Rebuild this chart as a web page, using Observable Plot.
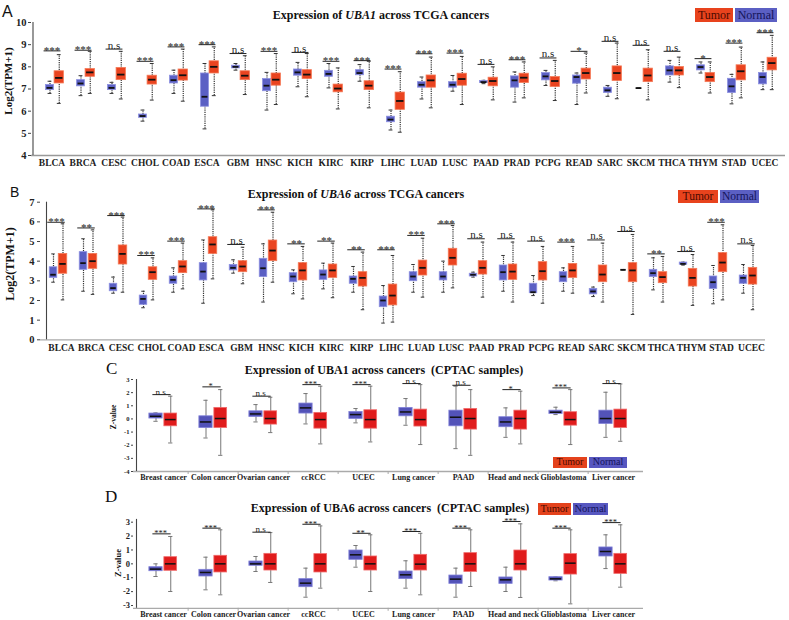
<!DOCTYPE html>
<html><head><meta charset="utf-8">
<script src="https://cdn.jsdelivr.net/npm/d3@7"></script>
<script src="https://cdn.jsdelivr.net/npm/@observablehq/plot@0.6"></script>
<style>
body{margin:0;background:#fff;}
#wrap{position:relative;width:789px;height:620px;overflow:hidden;background:#fff;font-family:"Liberation Serif","Times New Roman",serif;color:#111;}
#wrap svg{overflow:visible;}
</style></head><body><div id="wrap"></div>
<script>
// ---------- DATA ----------
const tcgaCancers = ["BLCA","BRCA","CESC","CHOL","COAD","ESCA","GBM","HNSC","KICH","KIRC","KIRP","LIHC","LUAD","LUSC","PAAD","PRAD","PCPG","READ","SARC","SKCM","THCA","THYM","STAD","UCEC"];
// [min, q1, median, q3, max]
const uba1TcgaNormal = [[6.8,6.95,7.05,7.18,7.35],[6.7,7.12,7.25,7.4,7.6],[6.8,6.95,7.05,7.18,7.3],[5.55,5.7,5.78,5.85,6.05],[6.8,7.25,7.4,7.6,7.85],[5.2,6.2,6.65,7.7,8.15],[7.85,7.93,8.0,8.05,8.15],[6.05,6.9,7.15,7.45,7.75],[7.1,7.6,7.75,7.88,8.2],[7.05,7.55,7.68,7.82,8.15],[7.35,7.62,7.72,7.85,8.1],[5.15,5.5,5.62,5.75,6.05],[6.55,7.06,7.19,7.31,7.54],[6.9,7.06,7.19,7.31,7.61],[7.24,7.27,7.31,7.36,7.39],[6.41,7.06,7.39,7.57,7.77],[7.16,7.39,7.57,7.72,7.84],[6.3,7.24,7.54,7.61,7.72],[6.67,6.82,6.94,7.06,7.16],[7.04,7.04,7.04,7.04,7.04],[7.31,7.61,7.84,8.02,8.29],[7.72,7.84,7.99,8.07,8.22],[6.33,6.82,7.12,7.46,7.66],[6.97,7.21,7.54,7.72,8.22]];
const uba1TcgaTumor = [[6.35,7.25,7.5,7.8,8.55],[6.8,7.55,7.75,7.9,8.7],[6.55,7.4,7.65,7.95,8.7],[6.5,7.2,7.42,7.6,8.15],[6.45,7.38,7.62,7.88,8.8],[6.7,7.7,8.0,8.25,8.9],[6.75,7.4,7.6,7.8,8.5],[6.3,7.15,7.42,7.7,8.6],[6.65,7.45,7.65,7.85,8.6],[6.1,6.85,7.02,7.2,7.95],[6.15,6.95,7.15,7.35,8.25],[5.05,6.06,6.46,6.84,7.78],[6.15,7.06,7.39,7.61,8.44],[6.3,7.15,7.45,7.69,8.47],[6.51,7.12,7.36,7.51,8.0],[6.6,7.27,7.51,7.69,8.22],[6.48,7.09,7.36,7.54,8.29],[6.82,7.43,7.72,7.92,8.62],[6.56,7.36,7.72,8.02,9.07],[6.51,7.31,7.61,7.92,8.77],[7.06,7.61,7.84,7.99,8.44],[6.82,7.31,7.54,7.72,8.22],[6.6,7.39,7.8,8.07,8.89],[6.97,7.84,8.17,8.41,9.42]];
const uba1TcgaSig = ["***","***","n.s","***","***","***","n.s","***","n.s","***","***","***","***","***","n.s","***","n.s","*","n.s","n.s","n.s","*","***","***"];
const uba1TcgaSigY = [8.72,8.75,8.8,8.25,8.9,9.0,8.6,8.7,8.65,8.25,8.28,7.9,8.59,8.62,8.11,8.32,8.4,8.7,9.15,8.97,8.7,8.37,9.07,9.54];
const uba1TcgaTicks = [4,5,6,7,8,9,10];

const uba6TcgaNormal = [[2.93,3.15,3.31,3.69,4.37],[2.47,3.56,3.9,4.46,5.14],[2.37,2.47,2.63,2.85,3.19],[1.63,1.78,2.08,2.25,2.47],[2.42,2.85,3.05,3.22,3.66],[1.86,3.02,3.47,3.9,5.08],[3.39,3.53,3.66,3.81,4.07],[1.92,3.19,3.64,4.12,4.88],[2.34,2.93,3.22,3.39,3.56],[2.59,3.05,3.32,3.53,3.9],[2.42,2.85,3.1,3.22,3.73],[0.85,1.66,2.0,2.2,2.76],[2.42,2.98,3.22,3.44,3.83],[2.42,3.02,3.22,3.44,4.0],[3.19,3.22,3.31,3.36,3.44],[2.47,3.02,3.44,3.78,4.29],[2.25,2.37,2.42,2.85,3.27],[2.47,2.93,3.22,3.44,3.66],[2.2,2.31,2.46,2.59,2.68],[3.56,3.56,3.56,3.56,3.56],[2.54,3.19,3.39,3.56,4.17],[3.8,3.82,3.86,3.93,3.95],[1.83,2.59,2.93,3.22,3.78],[2.37,2.85,3.15,3.27,3.83]];
const uba6TcgaTumor = [[2.03,3.36,3.86,4.37,5.9],[2.31,3.61,4.0,4.37,5.59],[2.42,3.83,4.37,4.8,6.24],[2.03,3.05,3.44,3.69,4.17],[2.59,3.39,3.73,4.0,4.92],[3.1,4.37,4.85,5.22,6.61],[2.85,3.44,3.73,4.0,4.71],[2.93,4.0,4.54,5.05,6.49],[2.08,3.02,3.53,3.9,4.75],[2.14,3.15,3.53,3.83,4.92],[1.53,2.71,3.15,3.44,4.46],[0.9,1.75,2.25,2.81,4.29],[2.17,3.27,3.66,4.03,5.17],[2.64,3.78,4.17,4.63,5.81],[2.17,3.32,3.66,4.0,4.97],[1.92,3.05,3.47,3.83,4.97],[1.86,3.02,3.49,3.95,4.75],[2.37,3.15,3.53,3.86,4.75],[1.92,2.93,3.32,3.78,4.92],[1.29,2.93,3.53,3.9,5.36],[1.92,2.88,3.19,3.44,4.24],[1.75,2.71,3.15,3.61,4.34],[2.03,3.44,3.93,4.41,5.85],[1.53,2.81,3.27,3.66,4.8]];
const uba6TcgaSig = ["***","**","***","***","***","***","n.s","***","**","**","**","***","***","***","n.s","n.s","n.s","***","n.s","n.s","**","n.s","***","n.s"];
const uba6TcgaSigY = [5.98,5.69,6.32,4.29,5.02,6.66,4.85,6.61,4.88,5.02,4.58,4.58,5.31,5.9,5.14,5.14,5.02,4.97,5.08,5.51,4.37,4.49,5.98,4.88];
const uba6TcgaTicks = [0,1,2,3,4,5,6,7];

const cptacCancers = ["Breast cancer","Colon cancer","Ovarian cancer","ccRCC","UCEC","Lung cancer","PAAD","Head and neck","Glioblastoma","Liver cancer"];
const uba1CptacNormal = [[-0.18,0.03,0.2,0.41,0.46],[-1.45,-0.69,-0.23,0.2,1.42],[-0.23,0.15,0.38,0.58,1.09],[-0.38,0.41,0.84,1.17,1.93],[-0.3,0.0,0.33,0.53,0.79],[-0.48,0.2,0.53,0.84,1.55],[-2.26,-0.56,0.13,0.63,2.49],[-1.4,-0.63,-0.23,0.13,0.84],[0.33,0.38,0.51,0.63,0.89],[-1.4,-0.38,0.03,0.63,2.03]];
const uba1CptacTumor = [[-1.83,-0.56,-0.05,0.41,1.73],[-2.77,-0.69,0.03,0.84,2.23],[-1.04,-0.43,0.03,0.58,1.65],[-1.9,-0.74,-0.05,0.46,2.49],[-1.75,-0.74,-0.05,0.66,2.49],[-1.95,-0.58,-0.05,0.71,2.61],[-2.77,-0.81,0.03,0.76,2.23],[-1.9,-0.81,0.03,0.63,2.11],[-1.95,-0.51,-0.05,0.51,2.23],[-1.7,-0.69,0.03,0.71,2.66]];
const uba1CptacSig = ["n.s","*","n.s","***","***","n.s","n.s","*","***","n.s"];
const uba1CptacSigY = [1.85,2.44,1.73,2.61,2.61,2.69,2.56,2.23,2.36,2.69];
const uba1CptacTicks = [-4,-3,-2,-1,0,1,2,3];

const uba6CptacNormal = [[-0.91,-0.53,-0.38,-0.24,0.0],[-1.87,-0.91,-0.62,-0.43,0.48],[-0.55,-0.14,0.0,0.17,0.53],[-2.4,-1.68,-1.39,-1.1,-0.31],[-0.24,0.29,0.65,0.96,1.32],[-1.75,-1.1,-0.79,-0.55,0.22],[-2.4,-1.44,-1.1,-0.84,-0.31],[-1.99,-1.44,-1.15,-0.98,-0.24],[-1.22,-1.2,-1.08,-0.96,-0.94],[-0.34,0.53,0.89,1.18,2.09]];
const uba6CptacTumor = [[-1.99,-0.5,0.0,0.48,1.97],[-2.23,-0.62,0.0,0.58,2.45],[-1.34,-0.48,0.0,0.72,2.25],[-1.75,-0.62,0.0,0.7,2.73],[-1.99,-0.48,0.0,0.53,2.09],[-2.23,-0.48,-0.02,0.65,2.2],[-1.63,-0.58,0.0,0.77,2.45],[-2.42,-0.48,0.0,0.96,2.88],[-2.88,-0.77,0.05,0.7,2.45],[-1.68,-0.72,0.0,0.72,2.81]];
const uba6CptacSig = ["***","***","n.s","***","**","***","***","***","***","***"];
const uba6CptacSigY = [2.16,2.57,2.28,2.85,2.2,2.33,2.57,3.05,2.57,2.97];
const uba6CptacTicks = [-3,-2,-1,0,1,2,3];

// ---------- DRAWING ----------
const SERIF = "'Liberation Serif','Times New Roman',serif";
const wrap = document.getElementById("wrap");

function toRows(cats, normal, tumor) {
  const out = [];
  cats.forEach((c, i) => {
    [["Normal", normal], ["Tumor", tumor]].forEach(([g, arr]) => {
      const [min, q1, med, q3, max] = arr[i];
      out.push({cancer: c, group: g, min, q1, med, q3, max});
    });
  });
  return out;
}

function panel(cats, normal, tumor, sig, sigY, yDomain, yTicks, L) {
  const data = toRows(cats, normal, tumor);
  const sigData = cats.map((c, i) => ({cancer: c, label: sig[i], y: sigY[i]}));
  const bw = L.pitch;
  const r0 = L.start - bw / 2;
  const seg = (a, b) => ({insetLeft: bw / 2 + a, insetRight: bw / 2 - b});
  const marks = [];
  marks.push(Plot.ruleY([yDomain[0]], {stroke: L.baseColor, strokeWidth: 1.3}));
  if (L.sepTicks) {
    marks.push(Plot.ruleX(cats.slice(1), {x: d => d, y1: yDomain[0], y2: yDomain[0], insetBottom: -3, dx: -bw / 2, stroke: L.baseColor}));
  }
  marks.push(Plot.ruleX([cats[0]], {x: d => d, y1: yDomain[0], y2: yDomain[1], dx: L.ml - L.start, stroke: "#444", strokeWidth: 1.1}));
  for (const g of ["Normal", "Tumor"]) {
    const o = L[g];
    const sub = data.filter(d => d.group === g);
    const cx = (o.a + o.b) / 2;
    marks.push(Plot.ruleX(sub, {x: "cancer", y1: "min", y2: "max", dx: cx, stroke: L.whisker, strokeDasharray: L.dash, strokeWidth: L.whiskerW}));
    marks.push(Plot.tickY(sub, {x: "cancer", y: "min", ...seg(cx - L.cap / 2, cx + L.cap / 2), stroke: L.whisker, strokeWidth: 1}));
    marks.push(Plot.tickY(sub, {x: "cancer", y: "max", ...seg(cx - L.cap / 2, cx + L.cap / 2), stroke: L.whisker, strokeWidth: 1}));
    marks.push(Plot.barY(sub, {x: "cancer", y1: "q1", y2: "q3", ...seg(o.a, o.b), fill: o.fill, stroke: o.stroke, strokeWidth: 0.8}));
    marks.push(Plot.tickY(sub, {x: "cancer", y: "med", ...seg(o.a + 1, o.b - 1), stroke: "#111", strokeWidth: L.medW}));
  }
  marks.push(Plot.tickY(sigData, {x: "cancer", y: "y", ...seg(L.sigA, L.sigB), stroke: "#222", strokeWidth: 1}));
  marks.push(Plot.text(sigData.filter(d => d.label.includes("*")), {x: "cancer", y: "y", text: "label", dx: L.sigDx, lineAnchor: "bottom", dy: L.starDy, fontSize: L.starSize, fill: "#222"}));
  marks.push(Plot.text(sigData.filter(d => !d.label.includes("*")), {x: "cancer", y: "y", text: "label", dx: L.sigDx, lineAnchor: "bottom", dy: L.nsDy, fontSize: L.nsSize, fill: "#222"}));
  marks.push(Plot.axisY({ticks: yTicks, tickSize: L.yTickSize, tickPadding: L.yTickPad, fontSize: L.yFont, fontWeight: "bold", tickFormat: d => String(d), label: null, stroke: "#444"}));
  marks.push(Plot.axisX({tickSize: 0, tickPadding: L.xPad, fontSize: L.xFont, fontWeight: "bold", label: null}));
  const svg = Plot.plot({
    width: 789, height: L.h,
    marginLeft: L.ml, marginRight: L.mr, marginTop: L.mt, marginBottom: L.mb,
    x: {type: "band", domain: cats, range: [r0, r0 + bw * cats.length], padding: 0},
    y: {domain: yDomain},
    style: {fontFamily: SERIF, color: "#222", background: "transparent", overflow: "visible"},
    marks
  });
  const holder = document.createElement("div");
  Object.assign(holder.style, {position: "absolute", left: "0px", top: L.top + "px"});
  holder.appendChild(svg);
  wrap.appendChild(holder);
}

const tcgaStyleN = {fill: "#5b60c4", stroke: "#8c90e0"};
const tcgaStyleT = {fill: "#ea4420", stroke: "#f47a58"};
const cptacStyleN = {fill: "#5353b8", stroke: "#8080d8"};
const cptacStyleT = {fill: "#e01c1c", stroke: "#f06a6a"};

panel(tcgaCancers, uba1TcgaNormal, uba1TcgaTumor, uba1TcgaSig, uba1TcgaSigY, [4, 10], uba1TcgaTicks, {
  top: 0, h: 172, ml: 31, mr: 4, mt: 22, mb: 17, start: 50, pitch: 31.15,
  Normal: {a: -6, b: 2, ...tcgaStyleN}, Tumor: {a: 2.5, b: 12, ...tcgaStyleT},
  whisker: "#333", dash: "1.2,1", whiskerW: 1.2, cap: 4, medW: 1.8,
  sigA: -8, sigB: 9, sigDx: 0, starDy: 3, starSize: 11, nsDy: -0.5, nsSize: 11,
  yTickSize: 3, yTickPad: 2, yFont: 10.5, xPad: 4, xFont: 9.5, baseColor: "#999"
});

panel(tcgaCancers, uba6TcgaNormal, uba6TcgaTumor, uba6TcgaSig, uba6TcgaSigY, [0, 7], uba6TcgaTicks, {
  top: 170, h: 185, ml: 40, mr: 24, mt: 31.7, mb: 15.7, start: 55, pitch: 30.5,
  Normal: {a: -12, b: -4, ...tcgaStyleN}, Tumor: {a: -3, b: 6, ...tcgaStyleT},
  whisker: "#333", dash: "1.2,1", whiskerW: 1.2, cap: 4, medW: 1.8,
  sigA: -14, sigB: 4, sigDx: -5, starDy: 3, starSize: 11, nsDy: -0.5, nsSize: 11,
  yTickSize: 3, yTickPad: 3, yFont: 10.5, xPad: 4, xFont: 9.5, baseColor: "#aaa"
});

panel(cptacCancers, uba1CptacNormal, uba1CptacTumor, uba1CptacSig, uba1CptacSigY, [-4, 3], uba1CptacTicks, {
  top: 360, h: 125, ml: 133, mr: 146, mt: 19, mb: 14, start: 160, pitch: 50.75,
  Normal: {a: -14.5, b: -0.5, ...cptacStyleN}, Tumor: {a: 0.5, b: 14, ...cptacStyleT},
  whisker: "#777", dash: null, whiskerW: 1, cap: 5, medW: 1.5, sepTicks: true,
  sigA: -11, sigB: 8, sigDx: -3, starDy: 2.5, starSize: 8.5, nsDy: 0, nsSize: 9,
  yTickSize: 2, yTickPad: 2, yFont: 6.5, xPad: 3, xFont: 8, baseColor: "#aaa"
});

panel(cptacCancers, uba6CptacNormal, uba6CptacTumor, uba6CptacSig, uba6CptacSigY, [-3.2, 3.2], uba6CptacTicks, {
  top: 500, h: 120, ml: 133, mr: 146, mt: 18.9, mb: 12.2, start: 160, pitch: 50.75,
  Normal: {a: -14.5, b: -0.5, ...cptacStyleN}, Tumor: {a: 0.5, b: 14, ...cptacStyleT},
  whisker: "#777", dash: null, whiskerW: 1, cap: 5, medW: 1.5, sepTicks: true,
  sigA: -11, sigB: 8, sigDx: -3, starDy: 2.5, starSize: 8.5, nsDy: 0, nsSize: 9,
  yTickSize: 2, yTickPad: 1.5, yFont: 8.5, xPad: 3, xFont: 8, baseColor: "#aaa"
});

// ---------- TEXT OVERLAYS ----------
function addDiv(html, css) {
  const d = document.createElement("div");
  d.innerHTML = html;
  Object.assign(d.style, {position: "absolute", whiteSpace: "pre"}, css);
  wrap.appendChild(d);
  return d;
}
// panel letters
addDiv("A", {left: "2px", top: "3px", fontFamily: "'Liberation Sans',Arial,sans-serif", fontSize: "16px", lineHeight: "18px"});
addDiv("B", {left: "10px", top: "184px", fontFamily: "'Liberation Sans',Arial,sans-serif", fontSize: "14px", lineHeight: "16px"});
addDiv("C", {left: "106px", top: "360px", fontFamily: SERIF, fontSize: "17px", lineHeight: "18px"});
addDiv("D", {left: "105px", top: "488px", fontFamily: SERIF, fontSize: "17px", lineHeight: "18px"});
// titles
const titleCss = (cx, top, fs) => ({left: cx + "px", top: top + "px", transform: "translateX(-50%)", fontFamily: SERIF, fontWeight: "bold", fontSize: fs + "px", lineHeight: "14px", color: "#111"});
addDiv("Expression of <i>UBA1</i> across TCGA cancers", titleCss(381, 8, 12));
addDiv("Expression of <i>UBA6</i> across TCGA cancers", titleCss(356, 187, 12));
addDiv("Expression of UBA1 across cancers  (CPTAC samples)", titleCss(384, 363, 12));
addDiv("Expression of UBA6 across cancers  (CPTAC samples)", titleCss(390, 501, 12));
// y labels
const yLab = (t, cx, cy, fs) => addDiv(t, {left: cx + "px", top: cy + "px", transform: "translate(-50%,-50%) rotate(-90deg)", fontFamily: SERIF, fontWeight: "bold", fontSize: fs + "px", lineHeight: "1"});
yLab("Log2(TPM+1)", 8, 81, 11);
yLab("Log2(TPM+1)", 10, 264, 12);
yLab("Z-value", 114, 417, 7.5);
yLab("Z-value", 118, 563, 8.5);
// legends
function legend(x, y, wT, wN, h, fs, tFill, nFill) {
  const base = {top: y + "px", height: h + "px", lineHeight: h + "px", textAlign: "center", fontFamily: SERIF, fontSize: fs + "px"};
  addDiv("Tumor", {...base, left: x + "px", width: wT + "px", background: tFill, color: "#4a0a00"});
  addDiv("Normal", {...base, left: (x + wT + 2) + "px", width: wN + "px", background: nFill, color: "#14145a"});
}
legend(695, 8, 38, 42, 14, 12, "#e8431d", "#5b5fc3");
legend(678, 190, 40, 39, 13, 11.5, "#e8431d", "#5b5fc3");
legend(553, 457, 34, 38, 10.5, 10, "#e4421c", "#5757c0");
legend(538, 503, 33, 35, 12, 10.5, "#e4421c", "#5757c0");
</script>
</body></html>
